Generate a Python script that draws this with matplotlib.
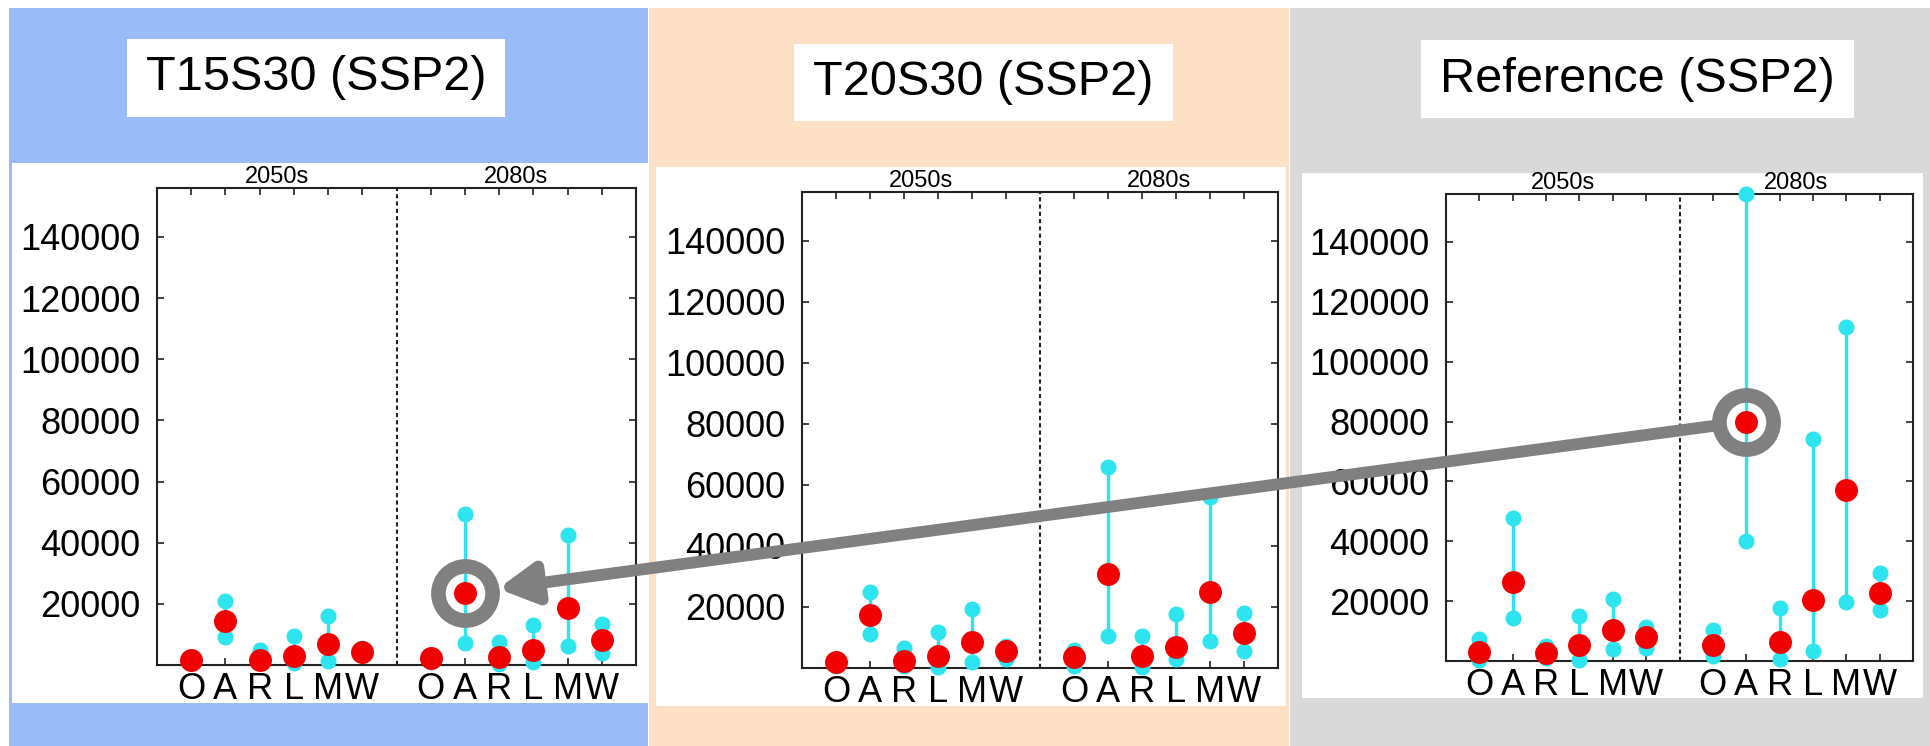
import matplotlib
matplotlib.use("Agg")
import matplotlib.pyplot as plt
import matplotlib.transforms as mtransforms
from matplotlib.patches import Rectangle, ConnectionPatch
import numpy as np

W, H, DPI = 1930, 746, 100
plt.rcParams['font.family'] = ['Liberation Sans', 'DejaVu Sans']

regions = ["O", "A", "R", "L", "M", "W"]
periods = ["2050s", "2080s"]
yticks = [20000, 40000, 60000, 80000, 100000, 120000, 140000]

# values per region, 2050s first then 2080s
t15_low = [500, 9000, 500, 600, 1300, 3500, 1000, 7200, 300, 1000, 6200, 4000]
t15_mid = [1500, 14500, 1500, 3000, 6800, 4300, 2300, 23500, 2600, 5000, 18500, 8100]
t15_high = [2500, 21000, 5000, 9500, 16000, 5500, 3000, 49500, 7500, 13000, 42500, 13300]

t20_low = [800, 11000, 500, 300, 2000, 3000, 500, 10400, 200, 2900, 8800, 5500]
t20_mid = [2000, 17300, 2300, 4000, 8500, 5500, 3600, 30700, 3900, 6900, 24800, 11400]
t20_high = [3000, 24800, 6500, 11700, 19200, 7200, 6000, 66000, 10400, 17600, 56000, 18000]

ref_low = [500, 14500, 1000, 500, 4000, 4400, 1700, 40000, 700, 3400, 19800, 17100]
ref_mid = [3000, 26500, 2800, 5400, 10500, 8000, 5400, 80000, 6400, 20500, 57000, 22800]
ref_high = [7400, 47700, 5000, 15000, 20800, 11500, 10400, 156000, 17800, 74000, 111600, 29400]

titles = ["T15S30 (SSP2)", "T20S30 (SSP2)", "Reference (SSP2)"]

RED = "#f00000"
CYAN = "#2ee4ee"
GREY = "#808080"


def fbox(x0, y0, x1, y1):
    # pixel box (top-left origin) -> figure fraction rect
    return [x0 / W, 1 - y1 / H, (x1 - x0) / W, (y1 - y0) / H]


fig = plt.figure(figsize=(W / DPI, H / DPI), dpi=DPI)

panel_bg = [("#9bbbf8", (9, 8, 648, 746)),
            ("#fde0c6", (649, 8, 1289, 746)),
            ("#d9d9d9", (1290, 8, 1930, 746))]
white_img = [(12, 163, 648, 703), (656, 167, 1286, 706), (1302, 173, 1923, 698)]
title_box = [(127, 39, 505, 117), (794, 44, 1173, 121), (1421, 40, 1854, 118)]
axes_box = [(157, 188, 636, 665), (802, 192, 1278, 668), (1446, 194, 1913, 661)]

for col, b in panel_bg:
    x, y, w, h = fbox(*b)
    fig.add_artist(Rectangle((x, y), w, h, transform=fig.transFigure,
                             facecolor=col, edgecolor="none", zorder=-3))
for b in white_img + title_box:
    x, y, w, h = fbox(*b)
    fig.add_artist(Rectangle((x, y), w, h, transform=fig.transFigure,
                             facecolor="white", edgecolor="none", zorder=-2))
for t, b in zip(titles, title_box):
    cx = (b[0] + b[2]) / 2 / W
    cy = 1 - (b[1] + b[3]) / 2 / H
    fig.text(cx, cy, t, ha="center", va="center", fontsize=35)

xpos = np.array([1, 2, 3, 4, 5, 6, 8, 9, 10, 11, 12, 13])
data = [(t15_low, t15_mid, t15_high),
        (t20_low, t20_mid, t20_high),
        (ref_low, ref_mid, ref_high)]

axes = []
for (low, mid, high), b in zip(data, axes_box):
    ax = fig.add_axes(fbox(*b))
    ax.set_facecolor("white")
    ax.vlines(xpos, low, high, color=CYAN, lw=2.4, zorder=2)
    ax.plot(xpos, low, "o", color=CYAN, ms=10.5, zorder=3, clip_on=False)
    ax.plot(xpos, high, "o", color=CYAN, ms=10.5, zorder=3, clip_on=False)
    ax.plot(xpos, mid, "o", color=RED, ms=15.5, zorder=4, clip_on=False)
    ax.axvline(7, color="#222222", ls=(0, (2, 1.5)), lw=1.5)
    ax.set_xlim(0, 14)
    ax.set_ylim(0, 156000)
    ax.set_xticks(xpos)
    ax.set_xticklabels(regions * 2)
    ax.set_yticks(yticks)
    ax.set_yticklabels([str(v) for v in yticks])
    ax.tick_params(direction="in", top=True, right=True, length=5, width=1.2,
                   color="#222222")
    ax.tick_params(axis="x", labelsize=26, pad=5)
    ax.tick_params(axis="y", labelsize=26, pad=12)
    for s in ax.spines.values():
        s.set_linewidth(1.5)
        s.set_color("#222222")
    tr = mtransforms.blended_transform_factory(ax.transData, ax.transAxes)
    for xc, p in zip([3.5, 10.5], periods):
        ax.text(xc, 1 + 5 / (b[3] - b[1]), p, transform=tr, ha="center",
                va="baseline", fontsize=17)
    axes.append(ax)

# highlight the A / 2080s median in the reference and in T15S30
for ax, mid in [(axes[0], t15_mid), (axes[2], ref_mid)]:
    ax.plot(9, mid[7], "o", ms=39, mfc="none", mec=GREY, mew=10.5,
            zorder=6, clip_on=False)

con = ConnectionPatch(xyA=(9, ref_mid[7]), coordsA=axes[2].transData,
                      xyB=(9, t15_mid[7]), coordsB=axes[0].transData,
                      arrowstyle="-|>,head_length=1.1,head_width=0.6",
                      mutation_scale=20, shrinkA=25, shrinkB=24,
                      color=GREY, lw=8.5, zorder=7)
fig.add_artist(con)

fig.savefig("out.png", dpi=DPI)
